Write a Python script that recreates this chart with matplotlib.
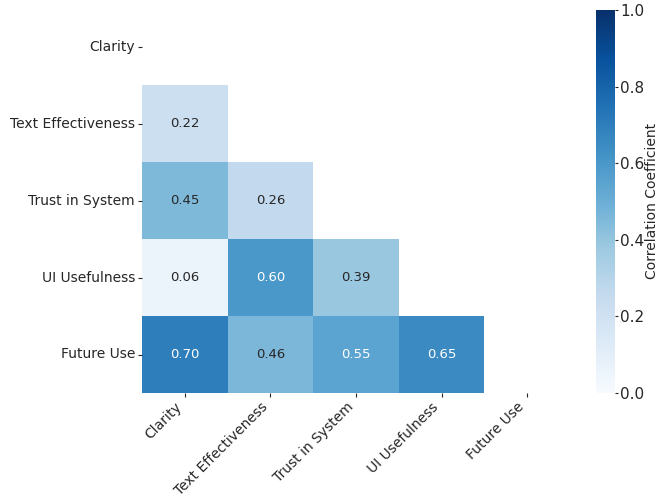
import numpy as np
import pandas as pd
import matplotlib
matplotlib.use("Agg")
import matplotlib.pyplot as plt
import seaborn as sns

# Rótulos das variáveis
labels = ["Clarity", "Text Effectiveness", "Trust in System", "UI Usefulness", "Future Use"]

# Correlações (triângulo inferior)
row_text_eff = [0.22]
row_trust = [0.45, 0.26]
row_ui = [0.06, 0.60, 0.39]
row_future = [0.70, 0.46, 0.55, 0.65]


def montar_matriz():
    n = len(labels)
    m = np.eye(n)
    for i, row in enumerate([row_text_eff, row_trust, row_ui, row_future], start=1):
        for j, v in enumerate(row):
            m[i, j] = v
            m[j, i] = v
    return pd.DataFrame(m, index=labels, columns=labels)


def main():
    corr = montar_matriz()
    mask = np.triu(np.ones_like(corr, dtype=bool))

    plt.rcParams["text.color"] = "#262626"
    plt.rcParams["xtick.color"] = "#262626"
    plt.rcParams["ytick.color"] = "#262626"

    fig = plt.figure(figsize=(6.59, 4.97), dpi=100)
    ax = fig.add_axes([142 / 659, 1 - 393 / 497, 428 / 659, 385 / 497])
    cax = fig.add_axes([596 / 659, 1 - 393 / 497, 19 / 659, 383 / 497])

    sns.heatmap(corr, mask=mask, annot=True, fmt=".2f", cmap="Blues",
                vmin=0, vmax=1, linewidths=0,
                annot_kws={"size": 9.5}, ax=ax, cbar_ax=cax)

    ax.set_xticklabels(labels, rotation=45, ha="right", fontsize=10)
    ax.set_yticklabels(labels, rotation=0, fontsize=10)
    ax.tick_params(length=3, width=0.8, pad=2, colors="#262626")
    cax.tick_params(labelsize=11, length=2.5, width=0.8, pad=1)
    # rótulo da barra de cores posicionado à mão para não ser cortado
    fig.text(652 / 659, 1 - 201 / 497, "Correlation Coefficient", rotation=90,
             ha="center", va="center", fontsize=10)

    fig.savefig("out.png", dpi=100)


if __name__ == "__main__":
    main()
